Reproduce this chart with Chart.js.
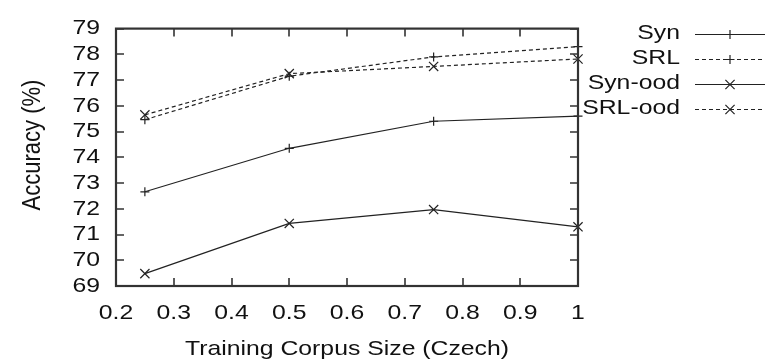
<!DOCTYPE html>
<html>
<head>
<meta charset="utf-8">
<script src="https://cdn.jsdelivr.net/npm/chart.js@4.4.0/dist/chart.umd.min.js"></script>
<style>
  html, body { margin: 0; padding: 0; background: #fff; }
  #wrap { width: 765px; height: 363px; }
</style>
</head>
<body>
<div id="wrap"><canvas id="c" width="765" height="363"></canvas></div>
<script>
// ---- data ----
const corpusSizes = [0.25, 0.5, 0.75, 1.0];
const synValues    = [72.66, 74.35, 75.40, 75.60];
const srlValues    = [75.46, 77.15, 77.90, 78.30];
const synOodValues = [69.48, 71.43, 71.97, 71.30];
const srlOodValues = [75.65, 77.25, 77.53, 77.82];
const seriesNames  = ['Syn', 'SRL', 'Syn-ood', 'SRL-ood'];
const xTickLabels  = ['0.2', '0.3', '0.4', '0.5', '0.6', '0.7', '0.8', '0.9', '1'];
const yTickLabels  = ['69', '70', '71', '72', '73', '74', '75', '76', '77', '78', '79'];
const xAxisTitle   = 'Training Corpus Size (Czech)';
const yAxisTitle   = 'Accuracy (%)';

const FONT = '"Liberation Sans", Arial, Helvetica, sans-serif';
const INK = '#222';
const FRAME = '#333';
const TEXT = '#111';
const STRETCH = 1.18; // reference text is horizontally widened

const canvas = document.getElementById('c');
const ctx0 = canvas.getContext('2d');
const origFillText = ctx0.fillText.bind(ctx0);
ctx0.fillText = function (text, x, y, maxWidth) {
  const m = ctx0.getTransform();
  ctx0.save();
  ctx0.translate(x, y);
  if (Math.abs(m.b) > 1e-6) ctx0.scale(1, STRETCH); else ctx0.scale(STRETCH, 1);
  origFillText(text, 0, 0);
  ctx0.restore();
};

function pts(vals) { return corpusSizes.map((x, i) => ({ x: x, y: vals[i] })); }

function ds(label, vals, dashed, style) {
  return {
    label: label,
    data: pts(vals),
    borderColor: INK,
    backgroundColor: INK,
    borderWidth: 1.2,
    borderDash: dashed ? [4, 3] : [],
    pointStyle: style,
    pointRadius: style === 'cross' ? 4.5 : 6.5,
    pointBorderWidth: 1.2,
    pointBorderColor: INK,
    tension: 0,
    fill: false,
    clip: false
  };
}

const framePlugin = {
  id: 'frame',
  afterDraw(chart) {
    const ctx = chart.ctx;
    const a = chart.chartArea;
    const xs = chart.scales.x, ys = chart.scales.y;
    ctx.save();
    ctx.strokeStyle = FRAME;
    ctx.lineWidth = 1.6;
    ctx.setLineDash([]);
    const L = 8;
    xTickLabels.forEach(t => {
      const px = Math.round(xs.getPixelForValue(parseFloat(t)));
      ctx.beginPath();
      ctx.moveTo(px, a.bottom); ctx.lineTo(px, a.bottom - L);
      ctx.moveTo(px, a.top); ctx.lineTo(px, a.top + L);
      ctx.stroke();
    });
    yTickLabels.forEach(t => {
      const py = Math.round(ys.getPixelForValue(parseFloat(t)));
      ctx.beginPath();
      ctx.moveTo(a.left, py); ctx.lineTo(a.left + L, py);
      ctx.moveTo(a.right, py); ctx.lineTo(a.right - L, py);
      ctx.stroke();
    });
    ctx.lineWidth = 2.2;
    ctx.strokeRect(a.left, a.top, a.right - a.left, a.bottom - a.top);

    // y axis title (rotated)
    ctx.save();
    ctx.fillStyle = TEXT;
    ctx.font = '22px ' + FONT;
    ctx.textAlign = 'center';
    ctx.textBaseline = 'middle';
    ctx.translate(33, 145);
    ctx.rotate(-Math.PI / 2);
    ctx.fillText(yAxisTitle, 0, 0);
    ctx.restore();

    // legend
    ctx.font = '21px ' + FONT;
    ctx.fillStyle = TEXT;
    ctx.textAlign = 'right';
    ctx.textBaseline = 'middle';
    chart.data.datasets.forEach((d, i) => {
      const y = 33.5 + i * 25;
      ctx.fillText(d.label, 680, y - 0.5);
      ctx.save();
      ctx.strokeStyle = INK;
      ctx.lineWidth = 1.2;
      ctx.setLineDash(d.borderDash);
      ctx.beginPath();
      ctx.moveTo(695, Math.round(y) + 0.5);
      ctx.lineTo(765, Math.round(y) + 0.5);
      ctx.stroke();
      ctx.setLineDash([]);
      Chart.helpers.drawPoint(ctx, {
        pointStyle: d.pointStyle, radius: d.pointRadius, borderWidth: 1.2, rotation: 0
      }, 730, Math.round(y) + 0.5);
      ctx.restore();
    });
    ctx.restore();
  }
};

new Chart(canvas, {
  type: 'line',
  data: {
    datasets: [
      ds(seriesNames[0], synValues, false, 'cross'),
      ds(seriesNames[1], srlValues, true, 'cross'),
      ds(seriesNames[2], synOodValues, false, 'crossRot'),
      ds(seriesNames[3], srlOodValues, true, 'crossRot')
    ]
  },
  options: {
    responsive: false,
    animation: false,
    devicePixelRatio: 1,
    layout: { padding: { left: 0, right: 187, top: 22, bottom: 0 } },
    plugins: { legend: { display: false }, tooltip: { enabled: false } },
    scales: {
      x: {
        type: 'linear',
        min: 0.2, max: 1,
        grid: { display: false, drawTicks: false },
        border: { display: false },
        afterBuildTicks(s) { s.ticks = xTickLabels.map(v => ({ value: parseFloat(v) })); },
        afterFit(s) { s.height = 77; },
        ticks: {
          padding: 15,
          color: TEXT,
          font: { family: FONT, size: 21 },
          maxRotation: 0,
          autoSkip: false,
          callback(v) { const i = xTickLabels.findIndex(t => Math.abs(parseFloat(t) - v) < 1e-6); return i >= 0 ? xTickLabels[i] : ''; }
        },
        title: {
          display: true,
          text: xAxisTitle,
          color: TEXT,
          font: { family: FONT, size: 21 },
          padding: { top: 0, bottom: 1 }
        }
      },
      y: {
        type: 'linear',
        min: 69, max: 79,
        grid: { display: false, drawTicks: false },
        border: { display: false },
        afterBuildTicks(s) { s.ticks = yTickLabels.map(v => ({ value: parseFloat(v) })); },
        afterFit(s) { s.width = 116; },
        ticks: {
          padding: 16,
          color: TEXT,
          font: { family: FONT, size: 21 },
          autoSkip: false,
          callback(v) { const i = yTickLabels.findIndex(t => parseFloat(t) === v); return i >= 0 ? yTickLabels[i] : ''; }
        },
        title: { display: false }
      }
    }
  },
  plugins: [framePlugin]
});
</script>
</body>
</html>
